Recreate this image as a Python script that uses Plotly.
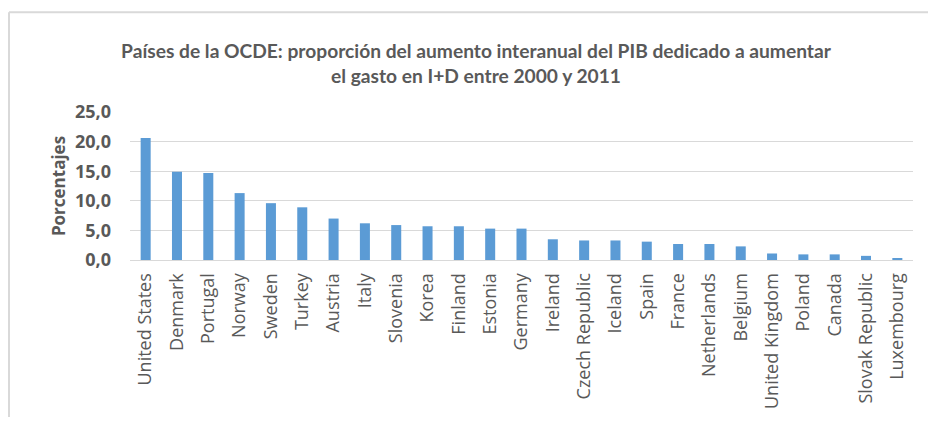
import plotly.graph_objects as go

countries = ["United States", "Denmark", "Portugal", "Norway", "Sweden", "Turkey", "Austria", "Italy",
             "Slovenia", "Korea", "Finland", "Estonia", "Germany", "Ireland", "Czech Republic", "Iceland",
             "Spain", "France", "Netherlands", "Belgium", "United Kingdom", "Poland", "Canada",
             "Slovak Republic", "Luxembourg"]
values = [20.6, 14.9, 14.7, 11.3, 9.6, 8.9, 7.0, 6.2, 5.9, 5.7, 5.7, 5.3, 5.3, 3.5, 3.3, 3.3,
          3.1, 2.7, 2.7, 2.3, 1.1, 0.95, 0.95, 0.7, 0.3]
y_ticks = [0, 5, 10, 15, 20, 25]

W, H = 928, 421
L, R, T, B = 130, 15, 112, 159
pw, ph = W - L - R, H - T - B

fig = go.Figure(go.Bar(x=countries, y=values, marker=dict(color="#5B9BD5", line=dict(width=0))))

grey = "#595959"
fig.update_layout(
    width=W, height=H,
    margin=dict(l=L, r=R, t=T, b=B),
    paper_bgcolor="white", plot_bgcolor="white",
    bargap=0.68,
    separators=", ",
    showlegend=False,
    title=dict(
        text="Países de la OCDE: proporción del aumento interanual del PIB dedicado a aumentar<br>el gasto en I+D entre 2000 y 2011",
        x=476 / W, xanchor="center", y=1 - 58 / H, yanchor="middle", yref="container",
        font=dict(family="Lato", size=19.2, color=grey, weight="bold"),
    ),
    font=dict(family="Open Sans", color=grey),
)
fig.update_xaxes(
    tickangle=-90, tickfont=dict(size=18, color=grey, family="Open Sans"),
    showgrid=False, showline=True, linecolor="#d9d9d9", linewidth=1, ticks="",
    ticklabelstandoff=5,
)
fig.update_yaxes(
    range=[0, 25], tickvals=y_ticks, tickformat=".1f",
    tickfont=dict(size=18, color=grey, family="Open Sans", weight="bold"),
    showgrid=True, gridcolor="#d9d9d9", gridwidth=1, zeroline=False, ticks="",
    ticklabelstandoff=18,
    title=dict(text="Porcentajes", font=dict(size=17, color=grey, family="Open Sans", weight="bold"), standoff=5),
)
# outer chart border (top and left)
fig.add_shape(type="line", xref="paper", yref="paper",
              x0=(9 - L) / pw, x1=(W - L) / pw, y0=(H - B - 11) / ph, y1=(H - B - 11) / ph,
              line=dict(color="#d9d9d9", width=2))
fig.add_shape(type="line", xref="paper", yref="paper",
              x0=(9 - L) / pw, x1=(9 - L) / pw, y0=(H - B - 11) / ph, y1=-(B) / ph,
              line=dict(color="#d9d9d9", width=2))

fig.write_html("out.html", config={"displayModeBar": False},
               post_script="document.body.style.margin='0';")
